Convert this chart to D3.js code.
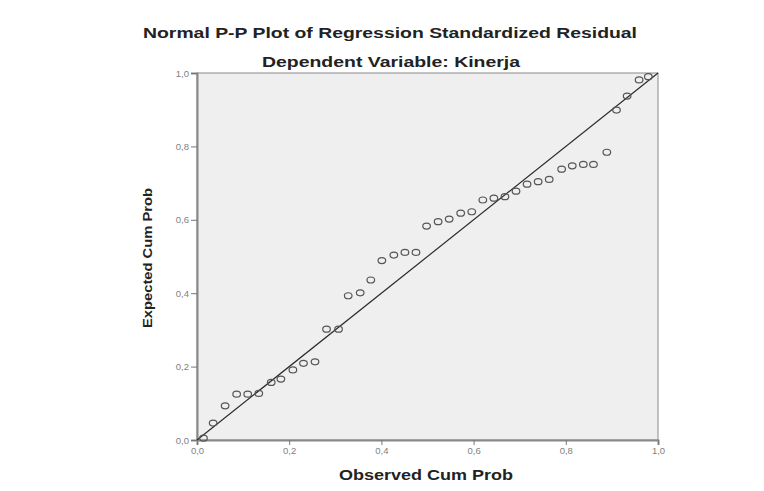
<!DOCTYPE html>
<html>
<head>
<meta charset="utf-8">
<script src="https://cdn.jsdelivr.net/npm/d3@7"></script>
<style>
  body { margin: 0; background: #fff; }
  svg { display: block; font-family: "Liberation Sans", Arial, sans-serif; }
</style>
</head>
<body>
<svg width="764" height="491"></svg>
<script>
// values
const observedCum = [0.014, 0.035, 0.061, 0.086, 0.110, 0.134, 0.161, 0.182, 0.208, 0.231,
  0.256, 0.281, 0.307, 0.328, 0.354, 0.377, 0.401, 0.427, 0.451, 0.475,
  0.498, 0.523, 0.547, 0.572, 0.596, 0.620, 0.644, 0.668, 0.692, 0.716,
  0.740, 0.764, 0.791, 0.814, 0.838, 0.860, 0.889, 0.910, 0.933, 0.959, 0.979]
const expectedCum = [0.005, 0.046, 0.093, 0.125, 0.125, 0.127, 0.157, 0.166, 0.191, 0.209,
  0.213, 0.302, 0.302, 0.393, 0.401, 0.436, 0.489, 0.504, 0.511, 0.511,
  0.583, 0.595, 0.602, 0.618, 0.622, 0.654, 0.659, 0.663, 0.678, 0.697,
  0.704, 0.710, 0.738, 0.747, 0.751, 0.751, 0.784, 0.899, 0.937, 0.981, 0.990]
const tickValues = [0, 0.2, 0.4, 0.6, 0.8, 1.0]
const tickLabels = ['0,0', '0,2', '0,4', '0,6', '0,8', '1,0']

const titleText = 'Normal P-P Plot of Regression Standardized Residual'
const subtitleText = 'Dependent Variable: Kinerja'
const xLabel = 'Observed Cum Prob'
const yLabel = 'Expected Cum Prob'

// plot box
const boxLeft = 197, boxRight = 658, boxTop = 73, boxBottom = 440

const svg = d3.select('svg')
const x = d3.scaleLinear().domain([0, 1]).range([boxLeft, boxRight])
const y = d3.scaleLinear().domain([0, 1]).range([boxBottom, boxTop])

// background panel
svg.append('rect')
  .attr('x', boxLeft).attr('y', boxTop)
  .attr('width', boxRight - boxLeft).attr('height', boxBottom - boxTop)
  .attr('fill', '#efefef')
  .attr('stroke', '#8a8a8a')
  .attr('stroke-width', 1)

// axes
const xAxis = d3.axisBottom(x).tickValues(tickValues)
  .tickFormat((d, i) => tickLabels[i]).tickSize(5).tickPadding(2)
const yAxis = d3.axisLeft(y).tickValues(tickValues)
  .tickFormat((d, i) => tickLabels[i]).tickSize(6).tickPadding(2)

const gx = svg.append('g').attr('transform', `translate(0,${boxBottom})`).call(xAxis)
const gy = svg.append('g').attr('transform', `translate(${boxLeft},0)`).call(yAxis)

;[gx, gy].forEach(g => {
  g.select('.domain').attr('stroke', '#888').attr('stroke-width', 2)
  g.selectAll('.tick line').attr('stroke', '#777')
  g.selectAll('.tick text').attr('fill', '#808080').attr('font-size', 9.5)
})

// reference diagonal
svg.append('line')
  .attr('x1', x(0)).attr('y1', y(0))
  .attr('x2', x(1)).attr('y2', y(1))
  .attr('stroke', '#2a2a2a')
  .attr('stroke-width', 1.2)

// points
svg.append('g')
  .selectAll('ellipse')
  .data(observedCum)
  .enter().append('ellipse')
    .attr('cx', d => x(d))
    .attr('cy', (d, i) => y(expectedCum[i]))
    .attr('rx', 3.8)
    .attr('ry', 3)
    .attr('fill', 'none')
    .attr('stroke', '#555')
    .attr('stroke-width', 1.2)

// titles
svg.append('text')
  .attr('x', 390).attr('y', 38)
  .attr('text-anchor', 'middle')
  .attr('font-size', 14.5).attr('font-weight', 'bold').attr('fill', '#222')
  .attr('textLength', 494).attr('lengthAdjust', 'spacingAndGlyphs')
  .text(titleText)

svg.append('text')
  .attr('x', 391).attr('y', 67)
  .attr('text-anchor', 'middle')
  .attr('font-size', 14.5).attr('font-weight', 'bold').attr('fill', '#222')
  .attr('textLength', 258).attr('lengthAdjust', 'spacingAndGlyphs')
  .text(subtitleText)

svg.append('text')
  .attr('x', 426).attr('y', 480)
  .attr('text-anchor', 'middle')
  .attr('font-size', 14).attr('font-weight', 'bold').attr('fill', '#222')
  .attr('textLength', 174).attr('lengthAdjust', 'spacingAndGlyphs')
  .text(xLabel)

svg.append('text')
  .attr('transform', 'translate(152,258) rotate(-90)')
  .attr('text-anchor', 'middle')
  .attr('font-size', 13).attr('font-weight', 'bold').attr('fill', '#222')
  .attr('textLength', 140).attr('lengthAdjust', 'spacingAndGlyphs')
  .text(yLabel)
</script>
</body>
</html>
